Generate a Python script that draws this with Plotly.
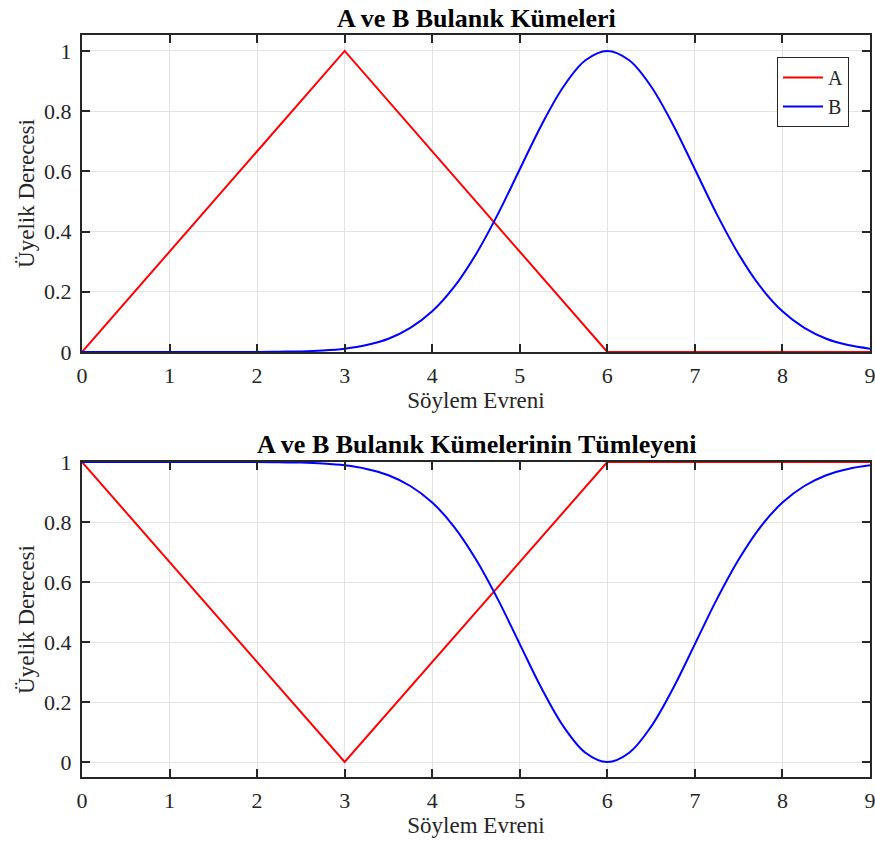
import plotly.graph_objects as go

# Universe of discourse samples
x_tri = [0, 3, 6, 9]
mu_a = [0, 1, 0, 0]
mu_a_comp = [1, 0, 1, 1]

x_b = [0, 0.5, 1, 1.5, 2, 2.25, 2.5, 2.75, 3, 3.25, 3.5, 3.75, 4, 4.25, 4.5, 4.75, 5,
       5.25, 5.5, 5.75, 6, 6.25, 6.5, 6.75, 7, 7.25, 7.5, 7.75, 8, 8.25,
       8.5, 8.75, 9]
mu_b = [0, 0, 0, 0, 0, 0.001, 0.002, 0.005, 0.011, 0.023, 0.044, 0.080, 0.135, 0.216,
        0.325, 0.458, 0.607, 0.755, 0.882, 0.969, 1, 0.969, 0.882, 0.755,
        0.607, 0.458, 0.325, 0.216, 0.135, 0.080, 0.044, 0.023, 0.011]
mu_b_comp = [1, 1, 1, 1, 1, 0.999, 0.998, 0.995, 0.989, 0.977, 0.956, 0.920, 0.865,
             0.784, 0.675, 0.542, 0.393, 0.245, 0.118, 0.031, 0, 0.031, 0.118,
             0.245, 0.393, 0.542, 0.675, 0.784, 0.865, 0.920, 0.956, 0.977,
             0.989]

x_ticks = list(range(0, 10))
y_ticks = [0, 0.2, 0.4, 0.6, 0.8, 1]
y_tick_text = ["0", "0.2", "0.4", "0.6", "0.8", "1"]

FONT = "Liberation Serif, Times New Roman, serif"
INK = "#262626"
RED = "#ff0000"
BLUE = "#0000ff"

fig = go.Figure()

fig.add_trace(go.Scatter(x=x_tri, y=mu_a, mode="lines", name="A",
                         line=dict(color=RED, width=2), xaxis="x", yaxis="y"))
fig.add_trace(go.Scatter(x=x_b, y=mu_b, mode="lines", name="B",
                         line=dict(color=BLUE, width=2, shape="spline", smoothing=1.0),
                         xaxis="x", yaxis="y"))
fig.add_trace(go.Scatter(x=x_tri, y=mu_a_comp, mode="lines", name="A",
                         line=dict(color=RED, width=2), xaxis="x2", yaxis="y2",
                         showlegend=False))
fig.add_trace(go.Scatter(x=x_b, y=mu_b_comp, mode="lines", name="B",
                         line=dict(color=BLUE, width=2, shape="spline", smoothing=1.0),
                         xaxis="x2", yaxis="y2", showlegend=False))

W, H = 875, 844
x_dom = [82 / W, 870 / W]
top_dom = [(H - 352) / H, (H - 35) / H]
bot_dom = [(H - 777) / H, (H - 462) / H]

common_x = dict(range=[0, 9], tickvals=x_ticks, showgrid=True, gridcolor="#e3e3e3",
                gridwidth=1, showline=True, linecolor=INK, linewidth=2, mirror="ticks",
                ticks="inside", ticklen=8, tickwidth=2, tickcolor=INK, zeroline=False,
                automargin=False, ticklabelstandoff=3, ticklabeloverflow="allow",
                tickfont=dict(family=FONT, size=22, color=INK),
                title=dict(text="Söylem Evreni", font=dict(family=FONT, size=23, color=INK),
                           standoff=0))
common_y = dict(tickvals=y_ticks, ticktext=y_tick_text, showgrid=True,
                gridcolor="#e3e3e3", gridwidth=1, showline=True, linecolor=INK,
                linewidth=2, mirror="ticks", ticks="inside", ticklen=8, tickwidth=2,
                tickcolor=INK, zeroline=False, automargin=False, ticklabelstandoff=4,
                ticklabeloverflow="allow",
                tickfont=dict(family=FONT, size=22, color=INK),
                title=dict(text="Üyelik Derecesi", font=dict(family=FONT, size=23, color=INK),
                           standoff=3))

fig.update_layout(
    width=W, height=H,
    margin=dict(l=0, r=0, t=0, b=0),
    paper_bgcolor="white", plot_bgcolor="white",
    font=dict(family=FONT, color=INK),
    xaxis=dict(domain=x_dom, anchor="y", **common_x),
    yaxis=dict(domain=top_dom, anchor="x", range=[0, 1.053], **common_y),
    xaxis2=dict(domain=x_dom, anchor="y2", **common_x),
    yaxis2=dict(domain=bot_dom, anchor="x2", range=[-0.05, 1], **common_y),
    legend=dict(x=849 / W, y=(H - 57) / H, xanchor="right", yanchor="top",
                bgcolor="white", bordercolor=INK, borderwidth=1,
                font=dict(family=FONT, size=20, color=INK),
                tracegroupgap=0, itemwidth=40),
    annotations=[
        dict(text="<b>A ve B Bulanık Kümeleri</b>", x=(x_dom[0] + x_dom[1]) / 2,
             y=(H - 18) / H, xref="paper", yref="paper", showarrow=False,
             xanchor="center", yanchor="middle",
             font=dict(family=FONT, size=26, color="black")),
        dict(text="<b>A ve B Bulanık Kümelerinin Tümleyeni</b>",
             x=(x_dom[0] + x_dom[1]) / 2, y=(H - 444) / H, xref="paper",
             yref="paper", showarrow=False, xanchor="center", yanchor="middle",
             font=dict(family=FONT, size=26, color="black")),
    ],
)

fig.write_html("out.html")
